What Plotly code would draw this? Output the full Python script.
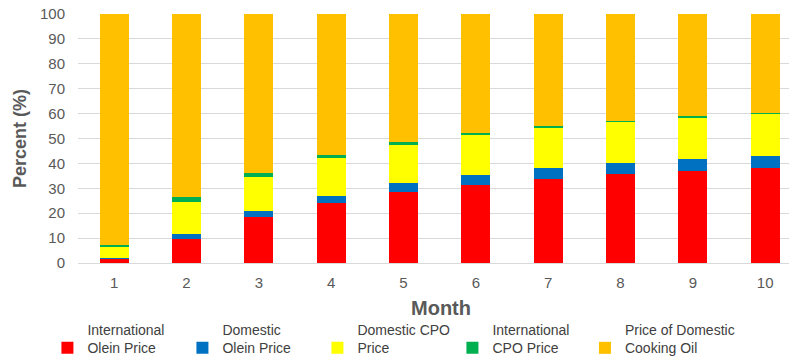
import plotly.graph_objects as go

months = ["1", "2", "3", "4", "5", "6", "7", "8", "9", "10"]
intl_olein = [2.0, 9.5, 18.5, 24.0, 28.4, 31.4, 33.8, 35.8, 37.1, 38.3]
dom_olein = [0.2, 2.0, 2.4, 3.1, 3.6, 4.1, 4.3, 4.3, 4.7, 4.8]
dom_cpo = [4.6, 12.9, 13.8, 15.0, 15.4, 16.0, 16.2, 16.6, 16.6, 16.9]
intl_cpo = [0.5, 2.3, 1.6, 1.3, 1.0, 0.6, 0.9, 0.5, 0.7, 0.3]
cooking_oil = [92.7, 73.3, 63.7, 56.6, 51.6, 47.9, 44.8, 42.8, 40.9, 39.7]

series = [
    ("International<br>Olein Price", intl_olein, "#FF0000", "legend"),
    ("Domestic<br>Olein Price", dom_olein, "#0070C0", "legend"),
    ("Domestic CPO<br>Price", dom_cpo, "#FFFF00", "legend"),
    ("International<br>CPO Price", intl_cpo, "#00B050", "legend"),
    ("Price of Domestic<br>Cooking Oil", cooking_oil, "#FFC000", "legend2"),
]

FONT = "Arial, Liberation Sans, sans-serif"

fig = go.Figure()
xs = list(range(1, 11))
for name, vals, col, lg in series:
    fig.add_trace(go.Bar(
        x=xs, y=vals, name=name, legend=lg,
        marker=dict(color=col, line=dict(width=0)),
        width=0.4,
    ))

legend_common = dict(
    orientation="h", yanchor="top", y=-0.205,
    font=dict(size=14, color="#404040", family=FONT),
    itemwidth=30, traceorder="normal", valign="bottom",
    bgcolor="rgba(0,0,0,0)",
)

fig.update_layout(
    barmode="stack",
    width=789, height=358,
    margin=dict(l=78, r=0, t=14, b=95, autoexpand=False),
    plot_bgcolor="white", paper_bgcolor="white",
    font=dict(family=FONT, color="#595959", size=15),
    showlegend=True,
    legend=dict(x=-0.043, xanchor="left", entrywidth=90, **legend_common),
    legend2=dict(x=0.713, xanchor="left", **legend_common),
)
fig.update_xaxes(
    range=[0.5, 10.33],
    tickmode="array", tickvals=xs, ticktext=months,
    showgrid=False, showline=False, zeroline=False,
    tickfont=dict(size=15, color="#595959"),
    ticklabelstandoff=9,
)
fig.update_yaxes(
    range=[0, 100], dtick=10,
    showgrid=True, gridcolor="#D9D9D9", gridwidth=1,
    zeroline=True, zerolinecolor="#D9D9D9", zerolinewidth=1,
    tickfont=dict(size=15, color="#595959"),
    ticklabelstandoff=12,
    title=dict(text="<b>Percent (%)</b>", font=dict(size=18, color="#595959"), standoff=8),
)
fig.add_annotation(
    text="<b>Month</b>", xref="paper", yref="paper",
    x=0.51, y=-0.128, xanchor="center", yanchor="top", showarrow=False,
    font=dict(size=20, color="#595959", family=FONT),
)

fig.write_html("out.html")
